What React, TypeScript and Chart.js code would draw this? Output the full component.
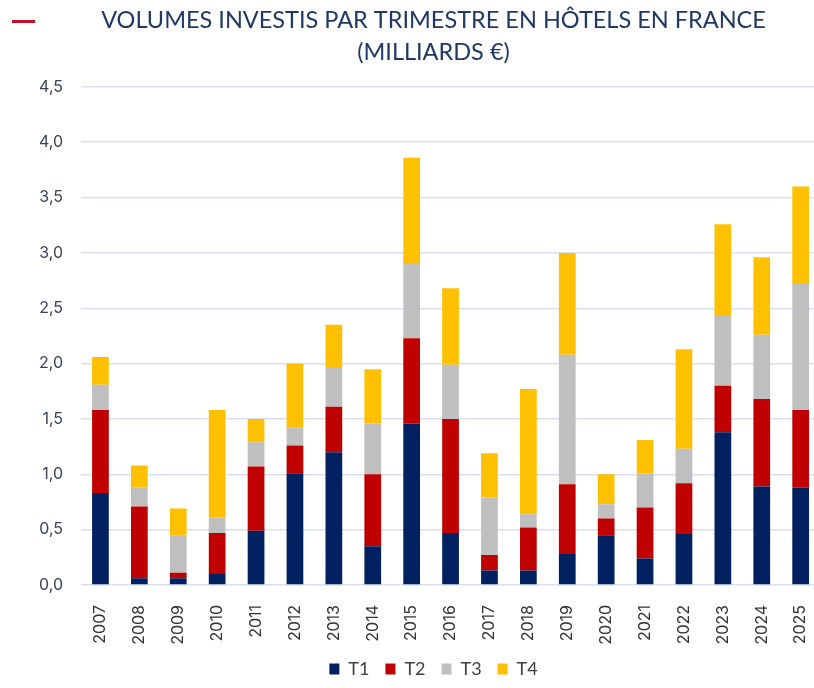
import React, { useEffect, useRef } from "react";
import { Chart, registerables } from "chart.js";

Chart.register(...registerables);

const years = ["2007","2008","2009","2010","2011","2012","2013","2014","2015","2016","2017","2018","2019","2020","2021","2022","2023","2024","2025"];
const t1 = [0.83,0.06,0.06,0.10,0.49,1.01,1.20,0.35,1.46,0.47,0.13,0.13,0.28,0.45,0.24,0.46,1.38,0.89,0.88];
const t2 = [0.75,0.65,0.05,0.37,0.58,0.25,0.41,0.65,0.77,1.03,0.14,0.39,0.63,0.15,0.46,0.46,0.42,0.79,0.70];
const t3 = [0.23,0.17,0.34,0.14,0.22,0.16,0.36,0.46,0.67,0.49,0.52,0.12,1.17,0.13,0.31,0.31,0.64,0.58,1.14];
const t4 = [0.25,0.20,0.24,0.97,0.21,0.58,0.38,0.49,0.96,0.69,0.40,1.13,0.92,0.27,0.30,0.90,0.82,0.70,0.88];
const seriesNames = ["T1", "T2", "T3", "T4"];
const seriesColors = ["#002060", "#C00000", "#BFBFBF", "#FFC000"];
const titleLines = ["VOLUMES INVESTIS PAR TRIMESTRE EN HÔTELS EN FRANCE", "(MILLIARDS €)"];

export default function App() {
  const ref = useRef<HTMLCanvasElement | null>(null);
  useEffect(() => {
    if (!ref.current) return;
    const values = [t1, t2, t3, t4];
    const chart = new Chart(ref.current, {
      type: "bar",
      data: {
        labels: years,
        datasets: seriesNames.map((n, i) => ({
          label: n,
          data: values[i],
          backgroundColor: seriesColors[i],
          borderWidth: 0,
          barPercentage: 0.43,
          categoryPercentage: 1,
        })),
      },
      options: {
        responsive: false,
        animation: false,
        layout: { padding: { left: 40, right: 5, top: 0, bottom: 0 } },
        plugins: {
          title: {
            display: true,
            text: titleLines,
            color: "#1F3864",
            font: { family: "Lato, sans-serif", size: 23.5, weight: "normal", lineHeight: 1.38 },
            padding: { top: 4, bottom: 18 },
          },
          legend: {
            position: "bottom",
            labels: {
              boxWidth: 10,
              boxHeight: 11,
              padding: 16,
              color: "#404040",
              font: { family: "Lato, sans-serif", size: 18 },
            },
          },
          tooltip: { enabled: false },
        },
        scales: {
          x: {
            stacked: true,
            grid: { display: false },
            border: { display: false },
            afterFit: (s: any) => { s.height = 59; },
            ticks: {
              minRotation: 90,
              maxRotation: 90,
              padding: 12,
              color: "#333333",
              font: { family: "Inter, sans-serif", size: 16 },
            },
          },
          y: {
            stacked: true,
            min: 0,
            max: 4.5,
            afterFit: (s: any) => { s.width = 41; },
            ticks: {
              stepSize: 0.5,
              padding: 18,
              color: "#3b4252",
              font: { family: "Inter, sans-serif", size: 16 },
              callback: (v: any) => Number(v).toFixed(1).replace(".", ","),
            },
            grid: { color: "#d9dff3", lineWidth: 1.5, drawTicks: false },
            border: { display: false },
          },
        },
      },
    });
    return () => chart.destroy();
  }, []);
  return (
    <div style={{ position: "absolute", left: 0, top: 0, width: 814, height: 688, overflow: "hidden", background: "#fff" }}>
      <div style={{ position: "absolute", left: 12, top: 20, width: 23, height: 3, background: "#C8102E" }} />
      <canvas ref={ref} width={832} height={688} />
    </div>
  );
}
